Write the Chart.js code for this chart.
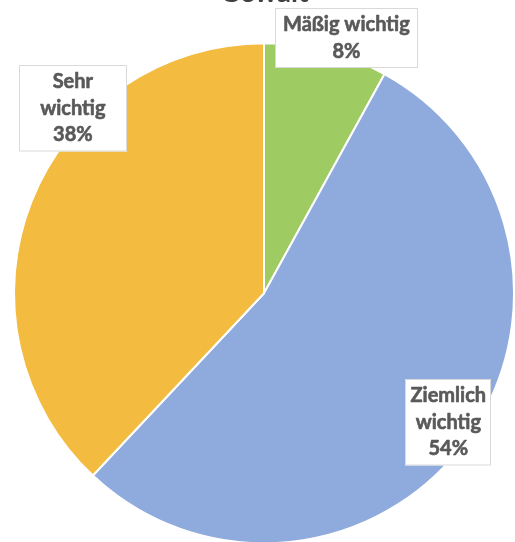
<!DOCTYPE html>
<html>
<head>
<meta charset="utf-8">
<script src="https://cdn.jsdelivr.net/npm/chart.js@4"></script>
<style>
  html, body { margin: 0; padding: 0; background: #fff; overflow: hidden; }
  /* Titel ragt oben aus dem Bild heraus */
  #wrap { position: absolute; left: 0; top: -40px; width: 515px; height: 582px; }
</style>
</head>
<body>
<div id="wrap"><canvas id="torte"></canvas></div>
<script>
const titel = 'Gewalt';
const kategorien = ['Mäßig wichtig', 'Ziemlich wichtig', 'Sehr wichtig'];
const anteile = [8, 54, 38];
const farben = ['#9FCB63', '#8FAADC', '#F3BC41'];

// Lage der Beschriftungskästen: Winkelversatz (Grad), Abstand (x Radius), Kastenbreite
const labelWinkel = [3.5, -1, 22.4];
const labelAbstand = [1.072, 0.9, 1.063];
const labelBreite = [143, 86, 108];

const schrift = 'bold 20px Lato';
const zeilenHoehe = 26.5;

// Text in Zeilen aufteilen, die in den Kasten passen
function umbrechen(ctx, text, maxBreite) {
  const woerter = text.split(' ');
  const zeilen = [];
  let aktuell = '';
  woerter.forEach(w => {
    const probe = aktuell ? aktuell + ' ' + w : w;
    if (aktuell && ctx.measureText(probe).width > maxBreite) {
      zeilen.push(aktuell);
      aktuell = w;
    } else {
      aktuell = probe;
    }
  });
  if (aktuell) zeilen.push(aktuell);
  return zeilen;
}

const beschriftung = {
  id: 'beschriftung',
  afterDatasetsDraw(chart) {
    const ctx = chart.ctx;
    const meta = chart.getDatasetMeta(0);
    ctx.save();
    ctx.font = schrift;
    meta.data.forEach((arc, i) => {
      const p = arc.getProps(['x', 'y', 'startAngle', 'endAngle', 'outerRadius'], true);
      const winkel = (p.startAngle + p.endAngle) / 2 + labelWinkel[i] * Math.PI / 180;
      const r = p.outerRadius * labelAbstand[i];
      const cx = p.x + Math.cos(winkel) * r;
      const cy = p.y + Math.sin(winkel) * r;

      const zeilen = umbrechen(ctx, kategorien[i], labelBreite[i] - 8);
      zeilen.push(anteile[i] + '%');
      const w = labelBreite[i];
      const h = zeilen.length * zeilenHoehe + 7;
      const links = Math.round(cx - w / 2);
      const oben = Math.round(cy - h / 2);

      ctx.fillStyle = '#ffffff';
      ctx.fillRect(links, oben, w, h);
      ctx.strokeStyle = '#d9d9d9';
      ctx.lineWidth = 1;
      ctx.strokeRect(links + 0.5, oben + 0.5, w - 1, h - 1);

      // etwas kräftigere Schrift: Füllung plus dünne Kontur
      ctx.fillStyle = '#595959';
      ctx.strokeStyle = '#595959';
      ctx.lineWidth = 0.6;
      ctx.lineJoin = 'round';
      ctx.textAlign = 'center';
      ctx.textBaseline = 'middle';
      zeilen.forEach((z, k) => {
        const ty = oben + 3.5 + zeilenHoehe * (k + 0.5);
        ctx.fillText(z, cx, ty);
        ctx.strokeText(z, cx, ty);
      });
    });
    ctx.restore();
  }
};

document.fonts.load(schrift).then(() => {
  new Chart(document.getElementById('torte'), {
    type: 'pie',
    data: {
      labels: kategorien,
      datasets: [{
        data: anteile,
        backgroundColor: farben,
        borderColor: '#ffffff',
        borderWidth: 2,
        hoverOffset: 0,
        radius: 250
      }]
    },
    options: {
      responsive: true,
      maintainAspectRatio: false,
      animation: false,
      layout: { padding: { left: 15, right: 2, top: 0, bottom: 0 } },
      plugins: {
        legend: { display: false },
        tooltip: { enabled: false },
        title: {
          display: true,
          text: titel,
          color: '#404040',
          font: { family: 'Lato', size: 28, weight: 'bold' },
          padding: { top: 16, bottom: 35 }
        }
      }
    },
    plugins: [beschriftung]
  });
});
</script>
</body>
</html>
